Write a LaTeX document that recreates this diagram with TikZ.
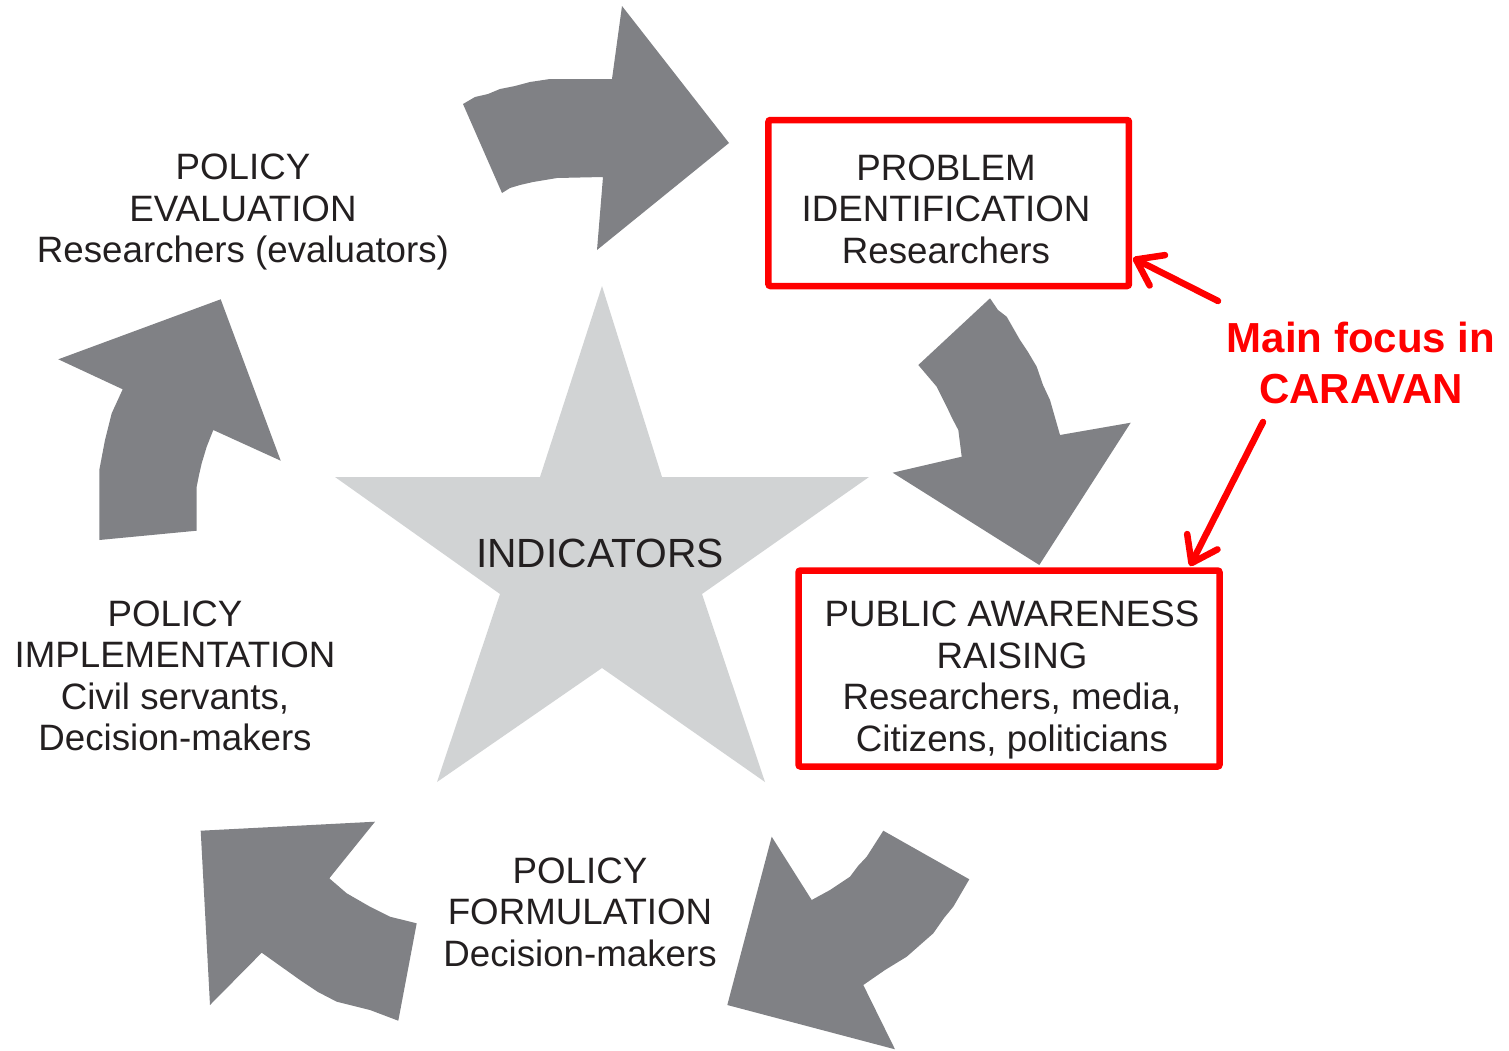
\documentclass[tikz,border=0pt]{standalone}
\usepackage{fontspec}
\setmainfont{Liberation Sans}
\usetikzlibrary{arrows.meta}
\definecolor{arrowgray}{HTML}{808185}
\definecolor{stargray}{HTML}{D1D3D4}
\definecolor{txtdark}{HTML}{231F20}
\definecolor{focusred}{HTML}{FF0000}
\tikzset{
  cyclearrow/.style={fill=arrowgray, draw=none},
  starshape/.style={fill=stargray, draw=none},
  stagelabel/.style={align=center, inner sep=0pt, text=txtdark, font=\fontsize{36.7bp}{41.5bp}\selectfont},
  centrelabel/.style={inner sep=0pt, text=txtdark, font=\fontsize{40.8bp}{46bp}\selectfont},
  focuslabel/.style={align=center, inner sep=0pt, text=focusred, font=\fontsize{42bp}{51bp}\selectfont\bfseries},
  redbox/.style={draw=focusred, line width=6.5bp, rounded corners=2bp, inner sep=0pt},
  focusarrow/.style={draw=focusred, line width=6.5bp, line cap=round, line join=round,
    -{Straight Barb[length=24bp, width=34bp, line cap=round, line join=round]}}
}
\begin{document}
\begin{tikzpicture}[x=1bp, y=-1bp]
\useasboundingbox (0,0) rectangle (1509,1050);
% star
\fill[starshape] (602,286) -- (662,477) -- (869,477) -- (702,594) -- (765,782) -- (602,668)
  -- (437,782) -- (500,594) -- (335,477) -- (540,477) -- cycle;
% top arrow
\fill[cyclearrow] (463,104) -- (475,97) -- (488,94) -- (500,89) -- (515,86) -- (530,82) -- (550,79) -- (612,79)
  -- (622,6) -- (729,143) -- (597,250) -- (603,177) -- (557,178) -- (545,180) -- (533,182) -- (520,185) -- (510,188)
  -- (502,193) -- cycle;
% right arrow
\fill[cyclearrow] (918.3,365) -- (990,298.3) -- (998,310) -- (1006.7,316.7) -- (1020,340) -- (1028,352) -- (1036.7,366.7)
  -- (1043,385) -- (1050,400) -- (1060,435) -- (1130.7,422.7) -- (1039.3,565) -- (892.7,472.7)
  -- (961.7,456.7) -- (958.3,430) -- (952,418) -- (946.7,406.7) -- (936.7,386.7) -- cycle;
% bottom-right arrow
\fill[cyclearrow] (883.3,830.7) -- (969.3,879.3) -- (953.3,906.7) -- (944,918) -- (933.3,933.3)
  -- (906.7,956.7) -- (885,970) -- (863.3,985) -- (895,1049.3) -- (727.3,1005) -- (771.7,836.7)
  -- (811.7,900) -- (830,890) -- (850,876.7) -- (858,866) -- (866.7,856.7) -- cycle;
% bottom-left arrow
\fill[cyclearrow] (200.7,830.7) -- (375,821.7) -- (329.3,878.3) -- (346.7,893.3)
  -- (370,906.7) -- (390,916.7) -- (416.7,923.3) -- (398.3,1020.7) -- (370,1010)
  -- (336.7,1001.7) -- (318,992) -- (300,980) -- (261.7,952.7) -- (210,1005) -- cycle;
% left arrow
\fill[cyclearrow] (58.3,359.3) -- (220.7,299.3) -- (280.7,460.7) -- (213.3,430)
  -- (206.7,446.7) -- (201.7,463.3) -- (199,475) -- (196.7,486.7) -- (196.7,530.7) -- (99.3,540)
  -- (99.3,470) -- (105,440) -- (111.7,413.3) -- (122.7,389.3) -- cycle;
% labels
\node[centrelabel] (ind) at (600,553) {INDICATORS};
\node[stagelabel] (eval) at (243,212) {POLICY\\EVALUATION\\Researchers (evaluators)};
\node[stagelabel] (prob) at (946,209) {PROBLEM\\IDENTIFICATION\\Researchers};
\node[stagelabel] (pub) at (1012,680) {PUBLIC AWARENESS\\RAISING\\Researchers, media,\\Citizens, politicians};
\node[stagelabel] (impl) at (175,676) {POLICY\\IMPLEMENTATION\\Civil servants,\\Decision-makers};
\node[stagelabel] (form) at (580,912) {POLICY\\FORMULATION\\Decision-makers};
% red boxes
\node[redbox, minimum width=360.5bp, minimum height=166bp] (box1) at (948.7,203) {};
\node[redbox, minimum width=421bp, minimum height=196bp] (box2) at (1009,668.5) {};
% focus note
\node[focuslabel] (focus) at (1361,362.5) {Main focus in\\CARAVAN};
\coordinate (a1s) at (1218,301);
\coordinate (a1e) at (1133,258);
\coordinate (a2s) at (1263,422);
\coordinate (a2e) at (1190,566);
\draw[focusarrow] (a1s) -- (a1e);
\draw[focusarrow] (a2s) -- (a2e);
\end{tikzpicture}
\end{document}
